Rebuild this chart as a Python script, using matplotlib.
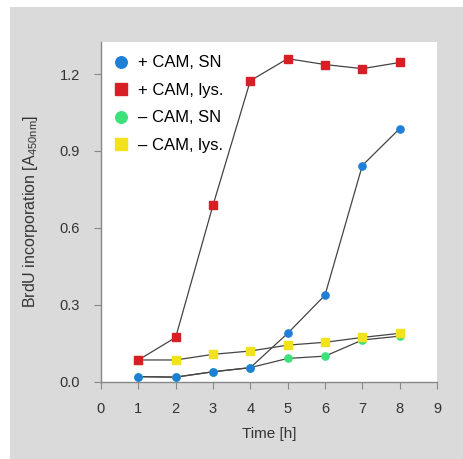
import matplotlib
matplotlib.use("Agg")
import matplotlib.pyplot as plt
from matplotlib.patches import Rectangle

time_h = [1, 2, 3, 4, 5, 6, 7, 8]
cam_sn = [0.019, 0.017, 0.038, 0.054, 0.188, 0.337, 0.843, 0.987]
cam_lys = [0.084, 0.172, 0.688, 1.174, 1.260, 1.237, 1.221, 1.245]
nocam_sn = [0.019, 0.017, 0.038, 0.054, 0.090, 0.099, 0.162, 0.177]
nocam_lys = [0.084, 0.084, 0.106, 0.119, 0.142, 0.153, 0.172, 0.188]

labels = ["+ CAM, SN", "+ CAM, lys.", "\u2013 CAM, SN", "\u2013 CAM, lys."]
colors = ["#1f7fd6", "#d81f26", "#3ee07a", "#f2e21c"]
markers = ["o", "s", "o", "s"]

xticks = list(range(10))
yticks = [0.0, 0.3, 0.6, 0.9, 1.2]
ytick_labels = ["0.0", "0.3", "0.6", "0.9", "1.2"]

plt.rcParams.update({
    "font.family": "Liberation Sans",
    "font.size": 10,
    "mathtext.fontset": "custom",
    "mathtext.rm": "Liberation Sans",
})

fig = plt.figure(figsize=(4.64, 4.59), dpi=100)
fig.patch.set_facecolor("white")
fig.patches.append(Rectangle((10 / 464, 0), 1, 452 / 459,
                             transform=fig.transFigure, facecolor="#dadada",
                             edgecolor="none", zorder=-10))

ax = fig.add_axes([101 / 464, 1 - 381.5 / 459, 336 / 464, 339.5 / 459])
ax.set_facecolor("white")

series = [cam_sn, cam_lys, nocam_sn, nocam_lys]
zorders = [6, 7, 4, 5]
for i in [2, 3, 0, 1]:
    ax.plot(time_h, series[i], "-", color="#444444", lw=0.9, zorder=2)
handles = {}
for i in range(4):
    h, = ax.plot(time_h, series[i], linestyle="none", marker=markers[i],
                 color=colors[i], ms=5.2, mec=colors[i], zorder=zorders[i],
                 label=labels[i])
    handles[i] = h

ax.set_xlim(0, 9)
ax.set_ylim(0, 1.325)
ax.set_xticks(xticks)
ax.set_yticks(yticks)
ax.set_yticklabels(ytick_labels)
for s in ["top", "right"]:
    ax.spines[s].set_visible(False)
for s in ["left", "bottom"]:
    ax.spines[s].set_color("#888888")
    ax.spines[s].set_linewidth(1.0)
ax.tick_params(direction="out", length=5, color="#888888", labelcolor="#333333",
               labelsize=10.5)
ax.tick_params(axis="y", pad=10)
ax.tick_params(axis="x", pad=10)

ax.set_xlabel("Time [h]", fontsize=11, color="#333333", labelpad=8)
ax.set_ylabel(r"BrdU incorporation [A$_{\mathrm{450nm}}$]", fontsize=11.5,
              color="#333333", labelpad=14)

ax.legend([handles[i] for i in range(4)], labels, loc="upper left",
          frameon=False, fontsize=12, handlelength=0.8, handletextpad=0.6,
          labelspacing=0.75, borderaxespad=0.4, markerscale=1.6)

fig.savefig("out.png", dpi=100, facecolor=fig.get_facecolor())
